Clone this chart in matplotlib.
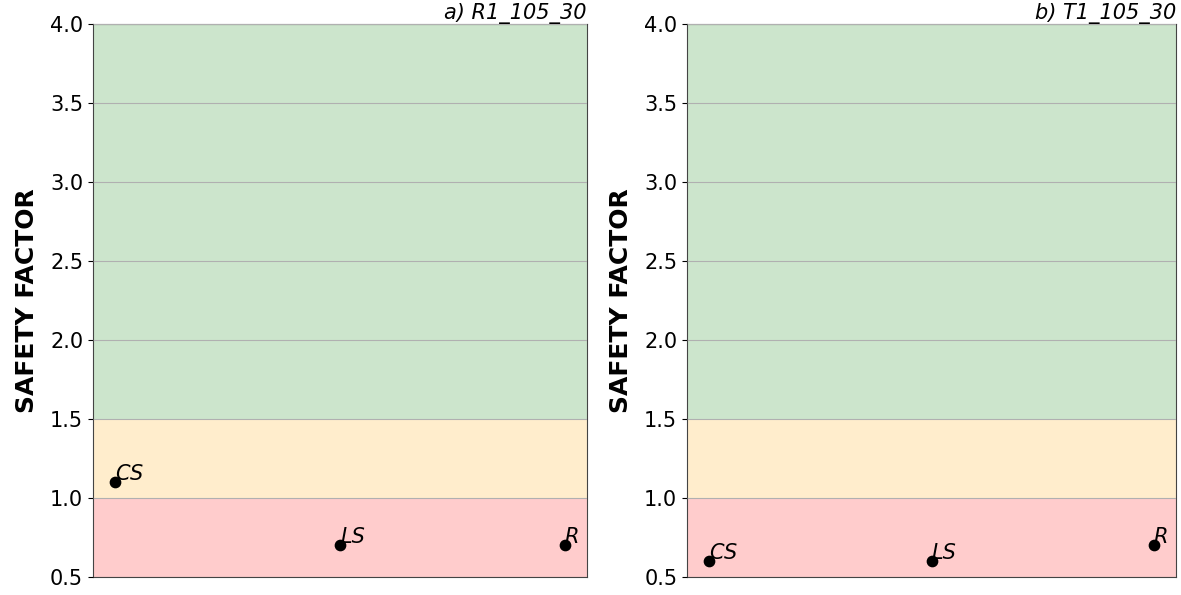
import matplotlib
matplotlib.use("Agg")
import matplotlib.pyplot as plt

categories = ["CS", "LS", "R"]
values_a = [1.1, 0.7, 0.7]
values_b = [0.6, 0.6, 0.7]
titles = ["a) R1_105_30", "b) T1_105_30"]
yticks = [0.5, 1.0, 1.5, 2.0, 2.5, 3.0, 3.5, 4.0]

fig = plt.figure(figsize=(11.81, 5.95), dpi=100)
rects = [[0.0787, 0.0303, 0.4183, 0.9294], [0.5817, 0.0303, 0.4141, 0.9294]]

for rect, vals, title in zip(rects, [values_a, values_b], titles):
    ax = fig.add_axes(rect)
    ax.axhspan(0.5, 1.0, color="red", alpha=0.2, lw=0)
    ax.axhspan(1.0, 1.5, color="orange", alpha=0.2, lw=0)
    ax.axhspan(1.5, 4.0, color="green", alpha=0.2, lw=0)
    x = list(range(len(categories)))
    ax.scatter(x, vals, color="black", s=55, zorder=3)
    for xi, v, lab in zip(x, vals, categories):
        ax.text(xi, v - 0.01, lab, fontsize=15, style="italic", va="bottom", ha="left", zorder=4)
    ax.set_xlim(-0.1, 2.1)
    ax.set_ylim(0.5, 4.0)
    ax.set_yticks(yticks)
    ax.tick_params(axis="y", labelsize=15)
    ax.set_xticks([])
    ax.grid(True, axis="y", color="#b0b0b0", linewidth=0.8)
    ax.set_axisbelow(False)
    for sp in ax.spines.values():
        sp.set_color("#444444")
    ax.set_ylabel("SAFETY FACTOR", fontsize=18, fontweight="bold", labelpad=8)
    ax.set_title(title, loc="right", fontsize=15, style="italic", pad=2)

fig.savefig("out.png", dpi=100)
